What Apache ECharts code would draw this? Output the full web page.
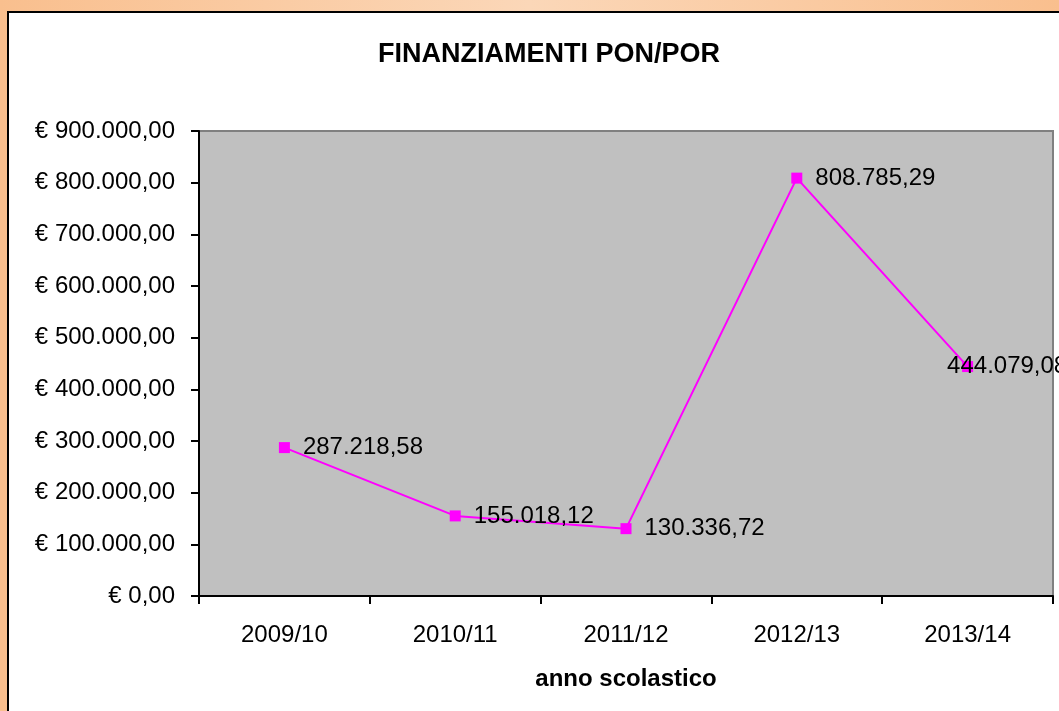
<!DOCTYPE html>
<html>
<head>
<meta charset="utf-8">
<script src="https://cdn.jsdelivr.net/npm/echarts@6/dist/echarts.min.js"></script>
<style>
	html, body { margin: 0; padding: 0; width: 1059px; height: 711px; overflow: hidden; }
	body { background: linear-gradient(to right, #f9bf8e 0%, #fbd7b8 50%, #f9bf8e 100%); position: relative; }
	#frame { position: absolute; left: 7px; top: 11px; width: 1100px; height: 760px; background: #fff; border: 2px solid #000; }
	#chart { position: absolute; left: 0; top: 0; width: 1059px; height: 711px; }
</style>
</head>
<body>
<div id="frame"></div>
<div id="chart"></div>
<script>
// anni scolastici e importi
const anni = ['2009/10', '2010/11', '2011/12', '2012/13', '2013/14'];
const importi = [287218.58, 155018.12, 130336.72, 808785.29, 444079.08];
const titolo = 'FINANZIAMENTI PON/POR';
const nomeAsseX = 'anno scolastico';

//formato italiano: 1.234,56
function formatIt(v) {
	let parts = v.toFixed(2).split('.');
	parts[0] = parts[0].replace(/\B(?=(\d{3})+(?!\d))/g, '.');
	return parts[0] + ',' + parts[1];
}

const font = 'Liberation Sans, Arial, sans-serif';
const chart = echarts.init(document.getElementById('chart'));

let seriesData = [];
for(let i = 0; i < importi.length; i++) {
	let item = { value: importi[i] };
	if(i == importi.length - 1) {
		item.label = { offset: [-39, 0] };
	}
	seriesData.push(item);
}

const option = {
	animation: false,
	title: {
		text: titolo,
		left: 544,
		top: 36,
		textAlign: 'center',
		textStyle: { fontFamily: font, fontSize: 27, fontWeight: 'bold', color: '#000' }
	},
	grid: {
		left: 199,
		right: 6,
		top: 131,
		bottom: 115,
		show: true,
		backgroundColor: '#c0c0c0',
		borderColor: '#808080',
		borderWidth: 2
	},
	xAxis: {
		type: 'category',
		data: anni,
		boundaryGap: true,
		name: nomeAsseX,
		nameLocation: 'middle',
		nameGap: 71,
		nameTextStyle: { fontFamily: font, fontSize: 24, fontWeight: 'bold', color: '#000' },
		axisLine: { lineStyle: { color: '#000', width: 2 } },
		axisTick: { show: true, inside: false, length: 8, alignWithLabel: false, lineStyle: { color: '#000', width: 2 } },
		axisLabel: { fontFamily: font, fontSize: 24, color: '#000', margin: 27 },
		splitLine: { show: false }
	},
	yAxis: {
		type: 'value',
		min: 0,
		max: 900000,
		interval: 100000,
		axisLine: { show: true, lineStyle: { color: '#000', width: 2 } },
		axisTick: { show: true, inside: false, length: 8, lineStyle: { color: '#000', width: 2 } },
		axisLabel: {
			fontFamily: font, fontSize: 24, color: '#000', margin: 24,
			formatter: function(v) { return '€ ' + formatIt(v); }
		},
		splitLine: { show: false }
	},
	series: [{
		type: 'line',
		data: seriesData,
		symbol: 'rect',
		symbolSize: 11,
		itemStyle: { color: '#ff00ff' },
		lineStyle: { color: '#ff00ff', width: 2 },
		label: {
			show: true,
			position: 'right',
			distance: 13,
			fontFamily: font,
			fontSize: 24,
			color: '#000',
			formatter: function(p) { return formatIt(p.value); }
		}
	}]
};
chart.setOption(option);
</script>
</body>
</html>
